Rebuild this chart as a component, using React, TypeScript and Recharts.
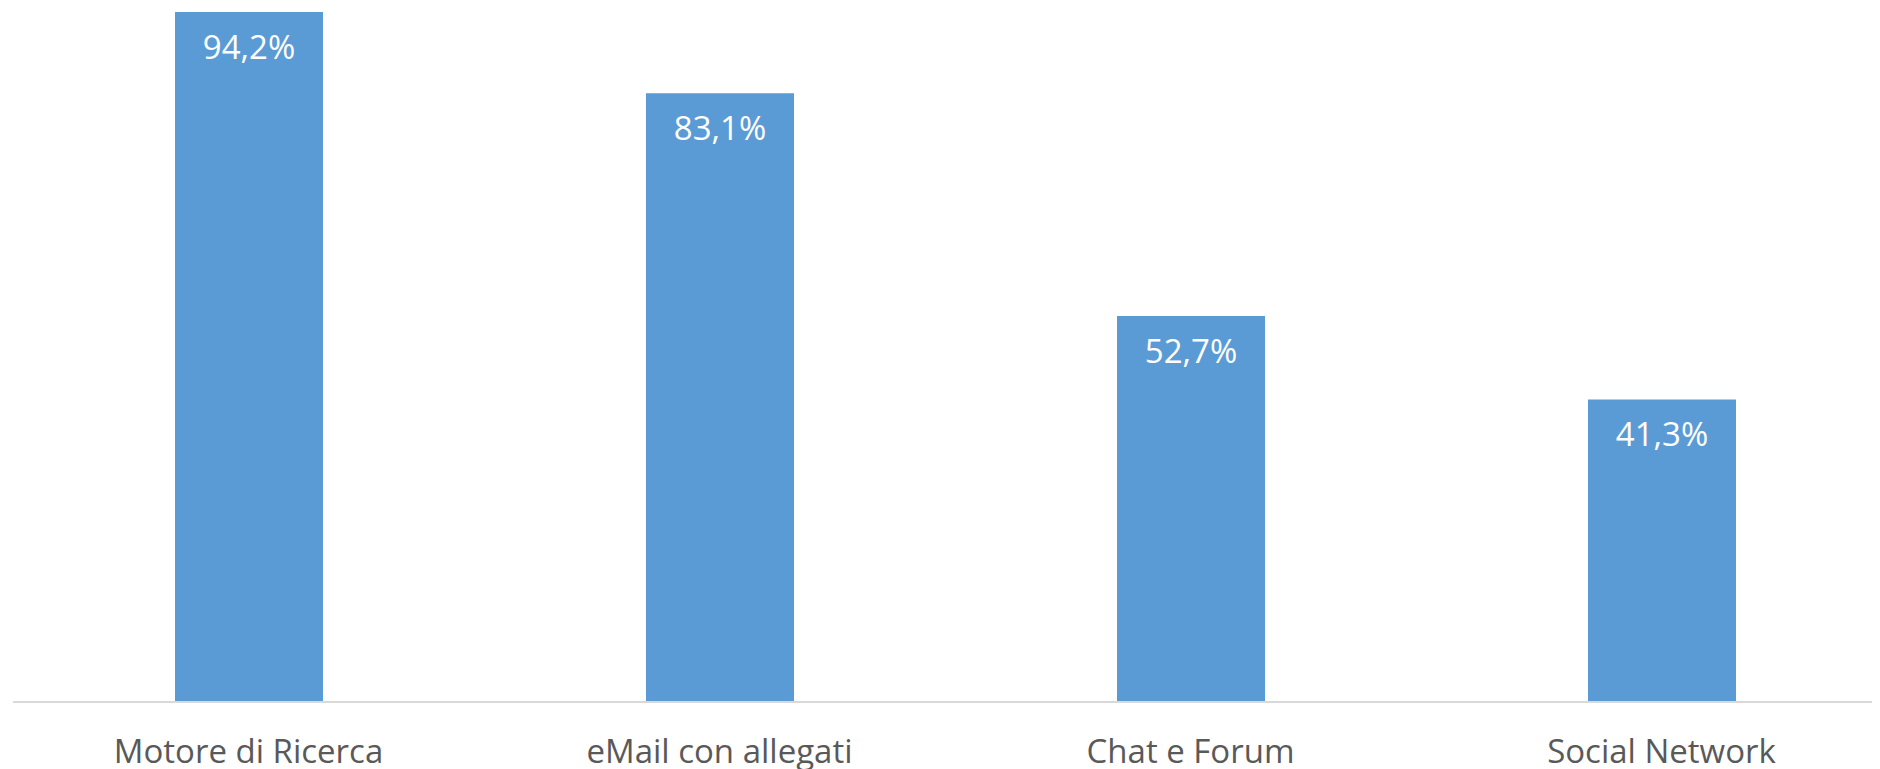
import React from "react";
import { BarChart, Bar, XAxis, YAxis, LabelList } from "recharts";

const categories = ["Motore di Ricerca", "eMail con allegati", "Chat e Forum", "Social Network"];
const values = [94.2, 83.1, 52.7, 41.3];
const labels = ["94,2%", "83,1%", "52,7%", "41,3%"];

const data = categories.map((c, i) => ({ name: c, value: values[i], label: labels[i] }));

const FONT = "'Open Sans', 'Noto Sans', sans-serif";

const renderLabel = (props: any) => {
  const { x, y, width, index } = props;
  return (
    <text
      x={x + width / 2}
      y={y + 47}
      textAnchor="middle"
      fill="#ffffff"
      fontFamily={FONT}
      fontSize={33}
    >
      {labels[index]}
    </text>
  );
};

const renderTick = (props: any) => {
  const { x, y, payload } = props;
  return (
    <text x={x} y={y + 53} textAnchor="middle" fill="#595959" fontFamily={FONT} fontSize={33}>
      {payload.value}
    </text>
  );
};

export default function App() {
  return (
    <div style={{ width: 1872, height: 761, overflow: "hidden", background: "#fff" }}>
      <BarChart
        width={1890}
        height={761}
        data={data}
        margin={{ top: 4, right: 1, bottom: 0, left: 5 }}
      >
        <YAxis hide domain={[0, 94.2]} />
        <XAxis
          dataKey="name"
          axisLine={{ stroke: "#d9d9d9", strokeWidth: 2 }}
          tickLine={false}
          tick={renderTick}
          interval={0}
          height={67}
        />
        <Bar dataKey="value" fill="#5b9bd5" barSize={148} isAnimationActive={false}>
          <LabelList dataKey="label" content={renderLabel} />
        </Bar>
      </BarChart>
    </div>
  );
}
